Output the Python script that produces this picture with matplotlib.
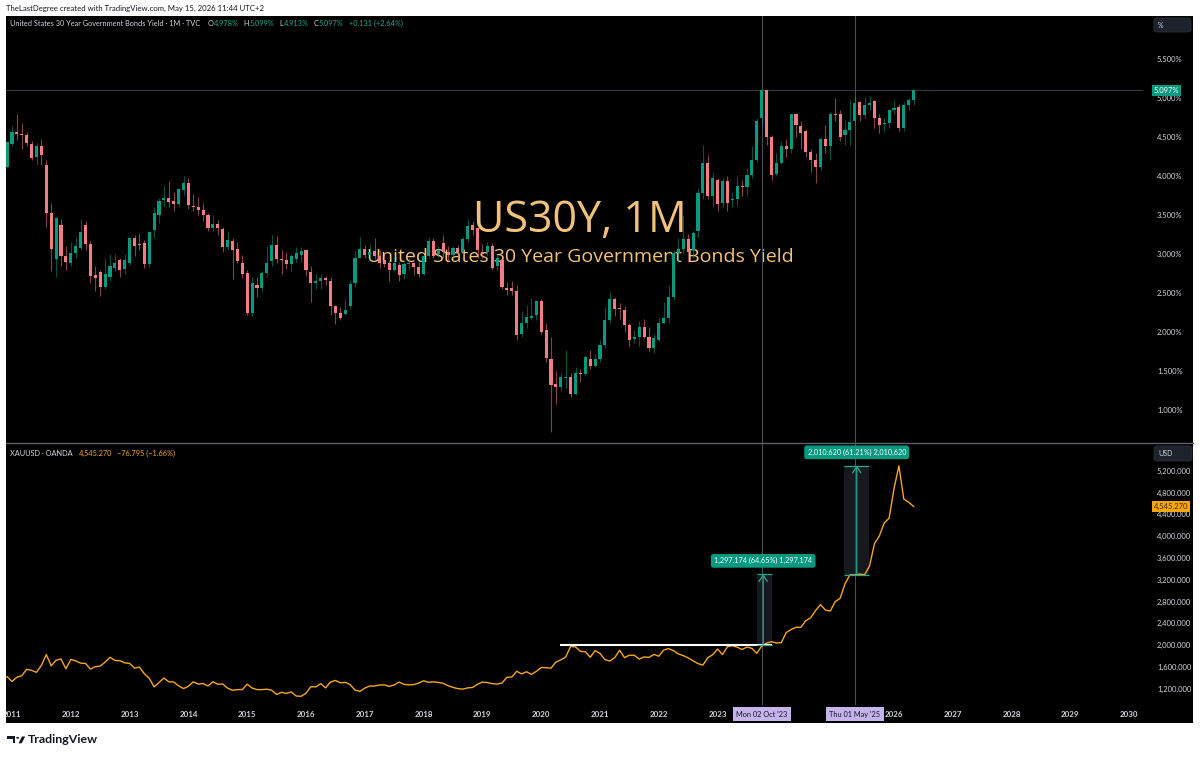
import matplotlib
matplotlib.use('Agg')
import matplotlib.pyplot as plt
import numpy as np
from matplotlib.patches import Rectangle, Circle, Polygon, FancyBboxPatch
from matplotlib.lines import Line2D
from matplotlib.transforms import blended_transform_factory

plt.rcParams['font.family'] = ['Lato', 'DejaVu Sans']

# ---------------- DATA ----------------
# US30Y monthly candles, first bar = Dec 2010 (month index -1, Jan 2011 = 0)
yield_start = -1
yield_open = [
    4.12,
    4.41, 4.57, 4.54, 4.52, 4.41, 4.24, 4.38, 4.14, 3.52, 2.94, 3.37, 2.97,
    2.89, 3.01, 3.08, 3.37, 3.13, 2.73, 2.77, 2.58, 2.70, 2.82, 2.92, 2.81,
    2.88, 3.20, 3.12, 3.14, 2.87, 3.31, 3.50, 3.69, 3.72, 3.68, 3.64, 3.82,
    3.91, 3.61, 3.60, 3.57, 3.50, 3.33, 3.38, 3.32, 3.09, 3.17, 3.06, 2.89,
    2.76, 2.25, 2.60, 2.56, 2.76, 2.91, 3.11, 2.93, 2.92, 2.87, 2.93, 2.99,
    3.05, 2.77, 2.63, 2.66, 2.69, 2.66, 2.33, 2.24, 2.23, 2.33, 2.63, 2.95,
    3.07, 2.99, 3.04, 2.97, 2.92, 2.88, 2.80, 2.86, 2.75, 2.87, 2.88, 2.83,
    2.75, 2.97, 3.17, 3.00, 3.14, 3.02, 2.99, 3.08, 3.02, 3.19, 3.37, 3.33,
    3.03, 3.02, 3.10, 2.84, 2.92, 2.57, 2.56, 2.53, 1.97, 2.12, 2.18, 2.22,
    2.40, 2.02, 1.65, 1.33, 1.29, 1.41, 1.42, 1.20, 1.48, 1.46, 1.65, 1.57,
    1.65, 1.83, 2.15, 2.42, 2.30, 2.28, 2.09, 1.91, 1.94, 2.06, 1.93, 1.79,
    1.90, 2.12, 2.18, 2.45, 3.01, 3.07, 3.19, 3.05, 3.30, 3.78, 4.17, 3.74,
    3.95, 3.65, 3.93, 3.69, 3.70, 3.87, 3.86, 4.01, 4.21, 4.74, 5.10, 4.50,
    4.03, 4.17, 4.38, 4.35, 4.79, 4.64, 4.58, 4.31, 4.21, 4.12, 4.48, 4.38,
    4.80, 4.79, 4.53, 4.59, 4.70, 4.95, 4.78, 4.91, 4.96, 4.74, 4.67, 4.68,
    4.84, 4.89, 4.61, 4.91, 4.978,
]
yield_high = [
    4.45,
    4.64, 4.80, 4.68, 4.57, 4.45, 4.42, 4.47, 4.21, 3.66, 3.48, 3.45, 3.10,
    3.15, 3.22, 3.45, 3.42, 3.17, 2.85, 2.80, 2.95, 3.00, 3.00, 2.95, 3.00,
    3.22, 3.25, 3.27, 3.18, 3.30, 3.60, 3.72, 3.87, 3.94, 3.80, 3.84, 4.00,
    3.98, 3.77, 3.73, 3.65, 3.52, 3.50, 3.43, 3.35, 3.30, 3.20, 3.15, 2.99,
    2.79, 2.70, 2.70, 2.78, 3.10, 3.25, 3.23, 3.05, 3.03, 3.00, 3.09, 3.09,
    3.07, 2.85, 2.75, 2.75, 2.72, 2.70, 2.35, 2.32, 2.42, 2.66, 3.04, 3.22,
    3.12, 3.13, 3.21, 3.05, 3.02, 2.92, 2.96, 2.90, 2.90, 2.95, 2.90, 2.90,
    2.97, 3.22, 3.20, 3.10, 3.25, 3.10, 3.10, 3.12, 3.22, 3.45, 3.42, 3.35,
    3.13, 3.15, 3.14, 3.00, 2.95, 2.64, 2.66, 2.60, 2.27, 2.35, 2.43, 2.40,
    2.42, 2.11, 1.94, 1.50, 1.48, 1.77, 1.48, 1.55, 1.52, 1.70, 1.77, 1.72,
    1.90, 2.32, 2.51, 2.45, 2.37, 2.33, 2.11, 2.03, 2.14, 2.17, 2.06, 1.97,
    2.19, 2.39, 2.60, 3.05, 3.21, 3.50, 3.26, 3.30, 3.85, 4.40, 4.27, 4.05,
    3.98, 3.98, 4.00, 3.80, 4.00, 3.95, 4.10, 4.38, 4.75, 5.11, 5.11, 4.52,
    4.30, 4.45, 4.48, 4.80, 4.80, 4.70, 4.60, 4.35, 4.30, 4.50, 4.65, 4.82,
    5.00, 4.85, 4.72, 4.98, 5.02, 4.96, 5.01, 5.03, 4.98, 4.80, 4.75, 4.86,
    4.98, 4.92, 4.95, 5.00, 5.099,
]
yield_low = [
    4.10,
    4.38, 4.46, 4.34, 4.38, 4.20, 4.14, 4.14, 3.35, 2.78, 2.71, 2.85, 2.80,
    2.85, 2.95, 3.05, 3.05, 2.63, 2.53, 2.46, 2.55, 2.65, 2.78, 2.70, 2.75,
    2.86, 2.98, 3.05, 2.82, 2.83, 3.20, 3.40, 3.60, 3.60, 3.55, 3.60, 3.76,
    3.58, 3.55, 3.50, 3.42, 3.29, 3.30, 3.25, 3.03, 3.05, 2.68, 2.88, 2.69,
    2.22, 2.21, 2.45, 2.51, 2.70, 2.85, 2.88, 2.74, 2.81, 2.78, 2.90, 2.90,
    2.72, 2.39, 2.55, 2.55, 2.60, 2.22, 2.10, 2.15, 2.22, 2.30, 2.58, 2.95,
    2.95, 2.93, 2.94, 2.82, 2.83, 2.65, 2.78, 2.65, 2.68, 2.80, 2.73, 2.70,
    2.73, 2.95, 2.95, 2.96, 2.95, 2.92, 2.90, 2.95, 2.98, 3.15, 3.25, 2.95,
    2.95, 2.98, 2.79, 2.80, 2.55, 2.47, 2.48, 1.90, 1.93, 2.05, 2.15, 2.15,
    1.98, 1.62, 0.72, 1.08, 1.24, 1.28, 1.17, 1.19, 1.36, 1.44, 1.52, 1.55,
    1.62, 1.80, 2.12, 2.21, 2.17, 2.00, 1.82, 1.86, 1.82, 1.92, 1.76, 1.73,
    1.89, 2.11, 2.11, 2.41, 2.90, 3.00, 2.90, 2.95, 3.22, 3.70, 3.70, 3.60,
    3.55, 3.60, 3.55, 3.60, 3.62, 3.75, 3.75, 3.97, 4.18, 4.65, 4.40, 3.95,
    4.00, 4.15, 4.25, 4.30, 4.50, 4.35, 4.25, 4.05, 3.91, 4.08, 4.30, 4.20,
    4.70, 4.45, 4.40, 4.40, 4.65, 4.70, 4.75, 4.85, 4.62, 4.55, 4.56, 4.62,
    4.80, 4.58, 4.58, 4.85, 4.913,
]
yield_close = [
    4.43,
    4.57, 4.54, 4.52, 4.42, 4.23, 4.39, 4.27, 3.53, 3.07, 3.46, 2.97, 2.90,
    3.01, 3.10, 3.28, 3.13, 2.72, 2.69, 2.58, 2.75, 2.85, 2.89, 2.80, 2.92,
    3.20, 3.10, 3.11, 2.87, 3.28, 3.53, 3.68, 3.72, 3.67, 3.64, 3.83, 3.91,
    3.63, 3.60, 3.57, 3.50, 3.33, 3.38, 3.33, 3.09, 3.18, 3.05, 2.91, 2.75,
    2.25, 2.63, 2.56, 2.76, 2.89, 3.11, 2.94, 2.92, 2.87, 2.98, 3.01, 3.04,
    2.80, 2.63, 2.65, 2.69, 2.67, 2.33, 2.24, 2.18, 2.28, 2.62, 2.95, 3.07,
    2.99, 3.02, 2.97, 2.88, 2.87, 2.80, 2.88, 2.73, 2.87, 2.88, 2.83, 2.75,
    2.97, 3.17, 2.98, 3.05, 3.02, 2.99, 3.08, 3.02, 3.19, 3.36, 3.31, 3.05,
    3.00, 3.10, 2.82, 2.95, 2.58, 2.54, 2.53, 1.96, 2.12, 2.19, 2.21, 2.40,
    2.00, 1.67, 1.32, 1.29, 1.42, 1.42, 1.20, 1.48, 1.46, 1.68, 1.57, 1.65,
    1.83, 2.16, 2.42, 2.30, 2.29, 2.09, 1.90, 1.93, 2.06, 1.93, 1.79, 1.92,
    2.12, 2.18, 2.45, 3.01, 3.06, 3.19, 3.02, 3.27, 3.78, 4.17, 3.74, 3.98,
    3.64, 3.93, 3.65, 3.71, 3.87, 3.86, 4.01, 4.21, 4.71, 5.10, 4.50, 4.01,
    4.17, 4.38, 4.35, 4.79, 4.65, 4.55, 4.31, 4.20, 4.12, 4.47, 4.38, 4.79,
    4.78, 4.50, 4.59, 4.69, 4.93, 4.78, 4.91, 4.93, 4.74, 4.65, 4.68, 4.84,
    4.87, 4.62, 4.91, 4.97, 5.097,
]

# XAUUSD monthly closes, first point = Nov 2010 (month index -2)
gold_start = -2
gold_close = [
    1386, 1421,
    1333, 1410, 1439, 1556, 1536, 1500, 1628, 1826, 1620, 1722, 1746, 1566,
    1738, 1711, 1669, 1664, 1560, 1604, 1615, 1687, 1776, 1719, 1714, 1675,
    1664, 1578, 1596, 1476, 1393, 1234, 1313, 1396, 1327, 1323, 1253, 1202,
    1244, 1326, 1284, 1296, 1250, 1327, 1282, 1287, 1210, 1172, 1183, 1184,
    1283, 1213, 1183, 1183, 1191, 1172, 1095, 1133, 1115, 1142, 1065, 1061,
    1117, 1238, 1233, 1293, 1215, 1322, 1351, 1309, 1316, 1277, 1173, 1152,
    1211, 1249, 1249, 1268, 1269, 1242, 1269, 1322, 1280, 1271, 1275, 1303,
    1345, 1318, 1325, 1316, 1299, 1253, 1224, 1201, 1192, 1215, 1222, 1282,
    1321, 1313, 1292, 1284, 1305, 1409, 1414, 1520, 1472, 1511, 1464, 1517,
    1589, 1585, 1577, 1687, 1730, 1781, 1975, 1968, 1886, 1879, 1777, 1898,
    1847, 1734, 1708, 1769, 1906, 1770, 1814, 1814, 1743, 1783, 1774, 1829,
    1796, 1909, 1937, 1897, 1837, 1807, 1766, 1711, 1660, 1633, 1768, 1824,
    1928, 1827, 1969, 1990, 1962, 1919, 1965, 1940, 1849, 1983, 2036, 2063,
    2040, 2044, 2230, 2286, 2327, 2327, 2448, 2503, 2635, 2744, 2643, 2625,
    2798, 2858, 3124, 3289, 3289, 3303, 3290, 3448, 3858, 4002, 4240, 4330,
    4870, 5290, 4680, 4622, 4545.27,
]

year_labels = ['2011', '2012', '2013', '2014', '2015', '2016', '2017', '2018',
               '2019', '2020', '2021', '2022', '2023', '2026', '2027', '2028',
               '2029', '2030']
yield_ticks = [1.0, 1.5, 2.0, 2.5, 3.0, 3.5, 4.0, 4.5, 5.0, 5.5]
gold_ticks = [1200, 1600, 2000, 2400, 2800, 3200, 3600, 4000, 4400, 4800, 5200]

marker_dates = [(2023, 10), (2025, 5)]
marker_labels = ["Mon 02 Oct '23", "Thu 01 May '25"]

breakout_level = 2000
breakout_span = (111.8, 155.1)      # month indices
# price-range measurements: (start month, end month, arrow month, base, top)
measures = [(152.0, 155.1, 153.3, 2006.4, 3303.6),
            (169.8, 174.9, 172.4, 3284.7, 5295.3)]
measure_labels = ["1,297.174 (64.65%) 1,297,174", "2,010.620 (61.21%) 2,010,620"]

# ---------------- STYLE / LAYOUT ----------------
UP = '#089981'
DN = '#F27D83'
TEAL = '#22ab94'
GOLD = '#F5A623'
TXT = '#d1d4dc'

W, H = 1200, 758
fig = plt.figure(figsize=(12, 7.58), dpi=100, facecolor='white')


def fx(px):
    return px / W


def fy(py):
    return 1 - py / H


def box(x0, y0, x1, y1):
    return [fx(x0), fy(y1), (x1 - x0) / W, (y1 - y0) / H]


fig.add_artist(Rectangle((fx(6), fy(723)), (1193 - 6) / W, (723 - 16) / H,
                         transform=fig.transFigure, facecolor='black',
                         edgecolor='none', zorder=-5))

ax_top = fig.add_axes(box(6, 16, 1143, 443))
ax_bot = fig.add_axes(box(6, 444, 1143, 705))
xlim = ((6 - 12) / 4.9, (1143 - 12) / 4.9)
for ax in (ax_top, ax_bot):
    ax.set_facecolor('black')
    for s in ax.spines.values():
        s.set_visible(False)
    ax.set_xlim(*xlim)
    ax.tick_params(length=0, labelsize=5.5, labelcolor=TXT)
    ax.yaxis.tick_right()
    ax.tick_params(axis='y', pad=10)

ax_top.set_ylim(1 + (410 - 443) / 78, 1 + (410 - 16) / 78)
ax_bot.set_ylim(1200 + (688.7 - 705) * 18.35, 1200 + (688.7 - 444) * 18.35)

# --- candles ---
o = np.array(yield_open)
h = np.array(yield_high)
l = np.array(yield_low)
c = np.array(yield_close)
xs = np.arange(len(c)) + yield_start
up = c >= o
body_col = np.where(up, UP, DN)
wick_col = [(*matplotlib.colors.to_rgb(col), 0.55) for col in body_col]
ax_top.vlines(xs, l, h, colors=wick_col, lw=0.8, zorder=2)
ax_top.bar(xs, np.maximum(np.abs(c - o), 0.012), bottom=np.minimum(o, c),
           width=0.62, color=body_col, linewidth=0, zorder=3)

ax_top.axhline(c[-1], color='#3a3e4a', lw=0.7, zorder=1)

ax_top.set_yticks(yield_ticks)
ax_top.set_yticklabels([f'{v:.3f}%' for v in yield_ticks])
ax_top.set_xticks([])

# watermark
ax_top.text(0.505, 0.494, 'US30Y, 1M', transform=ax_top.transAxes, ha='center',
            va='baseline', fontsize=31, color='#F3C27A', family=['Open Sans', 'DejaVu Sans'],
            zorder=1)
ax_top.text(0.505, 0.424, 'United States 30 Year Government Bonds Yield',
            transform=ax_top.transAxes, ha='center', va='baseline', fontsize=14,
            color='#F3C27A', family=['Open Sans', 'DejaVu Sans'], zorder=1)

# --- gold ---
xg = np.arange(len(gold_close)) + gold_start
ax_bot.plot(xg, gold_close, color=GOLD, lw=1.0, zorder=3)
ax_bot.hlines(breakout_level, breakout_span[0], breakout_span[1], color='white',
              lw=1.5, zorder=4)
for (m0, m1, ma, base, top), lab in zip(measures, measure_labels):
    ax_bot.add_patch(Rectangle((m0, base), m1 - m0, top - base, facecolor='#2a2e39',
                               alpha=0.55, edgecolor='none', zorder=2))
    ax_bot.hlines([base, top], m0, m1, color=TEAL, lw=0.9, zorder=4)
    ax_bot.annotate('', xy=(ma, top), xytext=(ma, base),
                    arrowprops=dict(arrowstyle='->,head_length=0.45,head_width=0.3',
                                    color=TEAL, lw=0.9, shrinkA=0, shrinkB=0),
                    zorder=4)
    ax_bot.annotate(lab, xy=(ma, top), xytext=(0, 9.5), textcoords='offset points',
                    ha='center', va='center', fontsize=5.2, color='white',
                    bbox=dict(boxstyle='round,pad=0.45,rounding_size=0.35', fc='#089981',
                              ec='none'), zorder=6, annotation_clip=False)

ax_bot.set_yticks(gold_ticks)
ax_bot.set_yticklabels([f'{v:,.3f}' for v in gold_ticks])
year_pos = [(int(y) - 2011) * 12 for y in year_labels]
ax_bot.set_xticks(year_pos)
ax_bot.set_xticklabels(year_labels, fontweight='bold')
ax_bot.tick_params(axis='x', pad=4, labelsize=5.7)

# vertical marker lines + date labels
marker_pos = [(y - 2011) * 12 + (mth - 1) for y, mth in marker_dates]
trans = blended_transform_factory(ax_bot.transData, ax_bot.transAxes)
for mp, lab in zip(marker_pos, marker_labels):
    ax_top.axvline(mp, color='#4a4e5a', lw=0.8, zorder=1)
    ax_bot.axvline(mp, color='#4a4e5a', lw=0.8, zorder=1)
    ax_bot.text(mp, -0.0345, lab, transform=trans, ha='center', va='center',
                fontsize=5.3, color='#131722', clip_on=False, zorder=10,
                bbox=dict(boxstyle='square,pad=0.45', fc='#c5b3ec', ec='none'))

# price tags on the scales
trans_t = blended_transform_factory(ax_top.transAxes, ax_top.transData)
ax_top.text((1154 - 6) / 1137, c[-1], f'{c[-1]:.3f}%', transform=trans_t, ha='left',
            va='center', fontsize=5.5, color='white', clip_on=False, zorder=10,
            bbox=dict(boxstyle='square,pad=0.25', fc='#089981', ec='none'))
trans_b = blended_transform_factory(ax_bot.transAxes, ax_bot.transData)
ax_bot.text((1154 - 6) / 1137, gold_close[-1], f'{gold_close[-1]:,.3f}', transform=trans_b,
            ha='left', va='center', fontsize=5.5, color='#3d2a00', clip_on=False,
            zorder=10, bbox=dict(boxstyle='square,pad=0.25', fc='#F7A600', ec='none'))

# separator line between panes
fig.add_artist(Line2D([fx(6), fx(1193)], [fy(443.5), fy(443.5)], transform=fig.transFigure,
                      color='#5d606b', lw=1.0, zorder=5))

# scale buttons
for (x0, y0, x1, y1, s) in [(1154, 18, 1191, 32, '%'), (1154, 446, 1192, 461, 'USD')]:
    fig.add_artist(FancyBboxPatch((fx(x0), fy(y1)), (x1 - x0) / W, (y1 - y0) / H,
                                  boxstyle='round,pad=0,rounding_size=0.003',
                                  transform=fig.transFigure, fc='#1e222d', ec='#2a2e39',
                                  lw=0.6, zorder=6))
    fig.text(fx(x0 + 4), fy((y0 + y1) / 2), s, fontsize=5, color=TXT, va='center',
             ha='left', zorder=7)

# mask the left margin (clips first year label like the reference)
fig.add_artist(Rectangle((0, fy(758)), fx(6), 1, transform=fig.transFigure,
                         facecolor='white', edgecolor='none', zorder=20))

# header texts
renderer = fig.canvas.get_renderer()


def chain(x_px, y_px, parts, size):
    x = x_px
    for s, col, gap in parts:
        t = fig.text(fx(x), fy(y_px), s, color=col, fontsize=size, va='center',
                     ha='left', zorder=8)
        bb = t.get_window_extent(renderer)
        x = bb.x1 + gap


fig.text(fx(6), fy(8.5), 'TheLastDegree created with TradingView.com, May 15, 2026 11:44 UTC+2',
         fontsize=5.6, color='#131722', va='center', ha='left')
chain(10, 23, [('United States 30 Year Government Bonds Yield · 1M · TVC', TXT, 7),
               ('O', TXT, 0.6), ('4.978%', TEAL, 5),
               ('H', TXT, 0.6), ('5.099%', TEAL, 5),
               ('L', TXT, 0.6), ('4.913%', TEAL, 5),
               ('C', TXT, 0.6), ('5.097%', TEAL, 5),
               ('+0.131 (+2.64%)', TEAL, 0)], 5.3)
chain(10, 453, [('XAUUSD · OANDA', TXT, 6), ('4,545.270', GOLD, 5),
                ('\u221276.795 (\u22121.66%)', GOLD, 0)], 5.3)

# TradingView logo
logo = '#131722'
fig.add_artist(Rectangle((fx(7), fy(739)), 8 / W, 2.6 / H, transform=fig.transFigure,
                         fc=logo, ec='none'))
fig.add_artist(Rectangle((fx(12.5), fy(743.3)), 2.6 / W, 6.8 / H, transform=fig.transFigure,
                         fc=logo, ec='none'))
fig.add_artist(Circle((fx(17.6), fy(737.8)), 1.4 / W, transform=fig.transFigure,
                      fc=logo, ec='none'))
fig.add_artist(Polygon([(fx(18.5), fy(743.3)), (fx(22), fy(736.5)), (fx(25.2), fy(736.5)),
                        (fx(21.7), fy(743.3))], closed=True, transform=fig.transFigure,
                       fc=logo, ec='none'))
fig.text(fx(28), fy(743.3), 'TradingView', fontsize=8.9, fontweight='bold', color=logo,
         va='baseline', ha='left')

fig.savefig('out.png', dpi=100, facecolor='white')
